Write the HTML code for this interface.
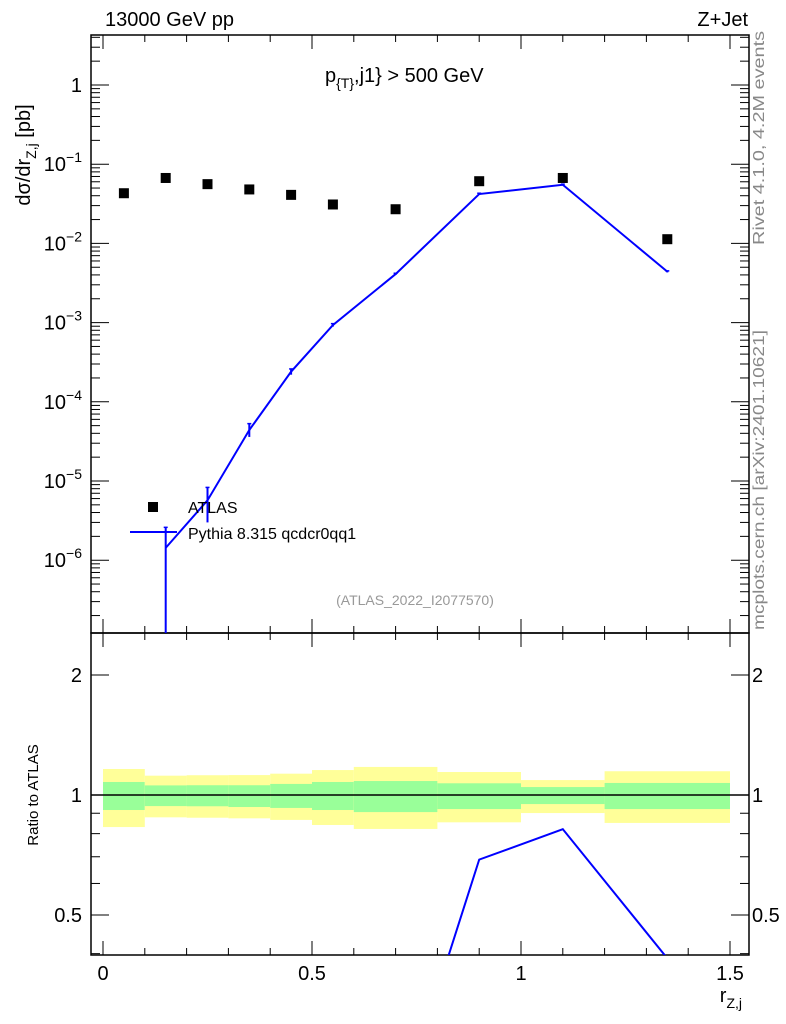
<!DOCTYPE html>
<html><head><meta charset="utf-8"><style>
html,body{margin:0;background:#fff;overflow:hidden;width:786px;height:1024px}
svg{display:block;font-family:"Liberation Sans",sans-serif}
</style></head><body>
<svg width="786" height="1024" viewBox="0 0 786 1024" xmlns="http://www.w3.org/2000/svg">
<g id="main"></g>
<text x="105" y="26" font-size="20">13000 GeV pp</text>
<text x="748" y="26" font-size="20" text-anchor="end">Z+Jet</text>
<text x="325" y="82" font-size="20">p<tspan font-size="14" dy="6">{T}</tspan><tspan dy="-6">,j1} &gt; 500 GeV</tspan></text>
<text transform="translate(30,155) rotate(-90)" font-size="20" text-anchor="middle">dσ/dr<tspan font-size="14" dy="6">Z,j</tspan><tspan dy="-6"> [pb]</tspan></text>
<text transform="translate(38,795) rotate(-90)" font-size="15" text-anchor="middle">Ratio to ATLAS</text>
<text transform="translate(764,245) rotate(-90)" font-size="16" fill="#888" textLength="214" lengthAdjust="spacingAndGlyphs">Rivet 4.1.0,  4.2M events</text>
<text transform="translate(764,630) rotate(-90)" font-size="16" fill="#888" textLength="300" lengthAdjust="spacingAndGlyphs">mcplots.cern.ch [arXiv:2401.10621]</text>
<text x="415" y="605" font-size="14" fill="#999" text-anchor="middle">(ATLAS_2022_I2077570)</text>
<text x="742" y="1002" font-size="20" text-anchor="end">r<tspan font-size="14" dy="6">Z,j</tspan></text>
<g>
<rect x="148" y="502" width="10" height="10" fill="#000"/>
<text x="188" y="513" font-size="16">ATLAS</text>
<line x1="130" y1="532" x2="177" y2="532" stroke="#00f" stroke-width="2"/>
<text x="188" y="539" font-size="16">Pythia 8.315 qcdcr0qq1</text>
</g>
</svg>
<script>
const binLo=[0,0.1,0.2,0.3,0.4,0.5,0.6,0.8,1.0,1.2];
const binHi=[0.1,0.2,0.3,0.4,0.5,0.6,0.8,1.0,1.2,1.5];
const xCenters=[0.05,0.15,0.25,0.35,0.45,0.55,0.7,0.9,1.1,1.35];
const atlasVals=[0.043,0.067,0.056,0.048,0.041,0.031,0.027,0.061,0.067,0.0113];
const pythiaVals=[null,1.43e-6,5.7e-6,4.4e-5,2.4e-4,9.3e-4,4.1e-3,0.042,0.055,0.0044];
const pythiaErrLo=[null,1e-9,3.0e-6,3.6e-5,2.2e-4,8.9e-4,4.0e-3,0.041,0.054,0.0043];
const pythiaErrHi=[null,2.6e-6,8.3e-6,5.3e-5,2.6e-4,9.7e-4,4.2e-3,0.043,0.056,0.0045];
const yellowHi=[1.162,1.118,1.121,1.122,1.131,1.155,1.176,1.142,1.09,1.147];
const yellowLo=[0.831,0.879,0.877,0.874,0.866,0.841,0.822,0.854,0.901,0.851];
const greenHi=[1.078,1.057,1.058,1.058,1.066,1.078,1.084,1.070,1.047,1.072];
const greenLo=[0.917,0.938,0.937,0.933,0.928,0.917,0.906,0.922,0.949,0.922];
const yTicks=[1e-6,1e-5,1e-4,1e-3,1e-2,1e-1,1];
const yTickLabels=[["10","−6"],["10","−5"],["10","−4"],["10","−3"],["10","−2"],["10","−1"],["1",""]];
const xTicks=[0,0.5,1,1.5];
const xTickLabels=["0","0.5","1","1.5"];
const rTicks=[0.5,1,2];
const rTickLabels=["0.5","1","2"];

const NS="http://www.w3.org/2000/svg";
const L=91,R=749,T=35,B=633,RT=633,RB=955;
const X=v=>103+v*418;
const Y=v=>85-Math.log10(v)*79.2;
const YR=v=>795-Math.log10(v)*398.7;
const g=document.getElementById('main');
function el(tag,attrs,parent){const e=document.createElementNS(NS,tag);for(const k in attrs)e.setAttribute(k,attrs[k]);(parent||g).appendChild(e);return e;}
const cl=el('clipPath',{id:'cm'});el('rect',{x:L,y:T,width:R-L,height:B-T},cl);
const cr=el('clipPath',{id:'cr'});el('rect',{x:L,y:RT,width:R-L,height:RB-RT},cr);

for(let i=0;i<binLo.length;i++){
  const b=el('rect',{x:X(binLo[i]),y:YR(yellowHi[i]),width:X(binHi[i])-X(binLo[i]),height:YR(yellowLo[i])-YR(yellowHi[i]),fill:'#ffff99'});
  
  
  const gr=el('rect',{x:X(binLo[i]),y:YR(greenHi[i]),width:X(binHi[i])-X(binLo[i]),height:YR(greenLo[i])-YR(greenHi[i]),fill:'#99ff99'});
  
  
}
const one=el('line',{x1:L,x2:R,y1:YR(1),y2:YR(1),stroke:'#000','stroke-width':1.5});



for(const [t,b] of [[T,B],[RT,RB]]){
  const f=el('rect',{x:L,y:t,width:R-L,height:b-t,fill:'none',stroke:'#000','stroke-width':1.5});
  
  
}
for(let k=0;k<=15;k++){
  const v=k/10,x=X(v),len=(k%5==0)?14:7;
  for(const [t,b] of [[T,B],[RT,RB]]){
    el('line',{x1:x,x2:x,y1:b,y2:b-len,stroke:'#000','stroke-width':1});
    el('line',{x1:x,x2:x,y1:t,y2:t+len,stroke:'#000','stroke-width':1});
  }
}
xTicks.forEach((v,i)=>{const t=el('text',{x:X(v),y:980,'font-size':20,'text-anchor':'middle'});t.textContent=xTickLabels[i];

});
for(let d=-7;d<=0;d++){for(let m=1;m<10;m++){const v=m*Math.pow(10,d),y=Y(v);if(y<T||y>B)continue;const len=m==1?18:9;
 el('line',{x1:L,x2:L+len,y1:y,y2:y,stroke:'#000'});el('line',{x1:R,x2:R-len,y1:y,y2:y,stroke:'#000'});}}
yTicks.forEach((v,i)=>{const t=el('text',{x:82,y:Y(v)+7,'font-size':20,'text-anchor':'end'});
 
 
 const [a,e]=yTickLabels[i];
 if(e){t.textContent=a;const s=el('tspan',{dy:-9,'font-size':14},t);s.textContent=e;}else t.textContent=a;});
const rt=[0.4,0.5,0.6,0.7,0.8,0.9,1,2];
rt.forEach(v=>{const y=YR(v),len=(v==0.5||v==1||v==2)?18:9;el('line',{x1:L,x2:L+len,y1:y,y2:y,stroke:'#000'});el('line',{x1:R,x2:R-len,y1:y,y2:y,stroke:'#000'});});
rTicks.forEach((v,i)=>{for(const [x,a] of [[82,'end'],[752,'start']]){const t=el('text',{x:x,y:YR(v)+7,'font-size':20,'text-anchor':a});t.textContent=rTickLabels[i];

}});

xCenters.forEach((x,i)=>{const r=el('rect',{x:X(x)-5,y:Y(atlasVals[i])-5,width:10,height:10,fill:'#000'});

});
const gm=el('g',{'clip-path':'url(#cm)'});
let pts=[];
xCenters.forEach((x,i)=>{if(pythiaVals[i]!=null)pts.push(X(x)+','+Y(pythiaVals[i]));});
const pl=el('polyline',{points:pts.join(' '),fill:'none',stroke:'#00f','stroke-width':2},gm);


xCenters.forEach((x,i)=>{if(pythiaVals[i]==null)return;const xx=X(x),y1=Y(pythiaErrHi[i]),y2=Math.min(Y(pythiaErrLo[i]),B);
 const e=el('line',{x1:xx,x2:xx,y1:y1,y2:y2,stroke:'#00f','stroke-width':2},gm);
 
 
 el('line',{x1:xx-2,x2:xx+2,y1:y1,y2:y1,stroke:'#00f','stroke-width':1.5},gm);});
const gr2=el('g',{'clip-path':'url(#cr)'});
let rp=[];
xCenters.forEach((x,i)=>{if(pythiaVals[i]!=null)rp.push(X(x)+','+YR(pythiaVals[i]/atlasVals[i]));});
const rl=el('polyline',{points:rp.join(' '),fill:'none',stroke:'#00f','stroke-width':2},gr2);


</script>
</body></html>
